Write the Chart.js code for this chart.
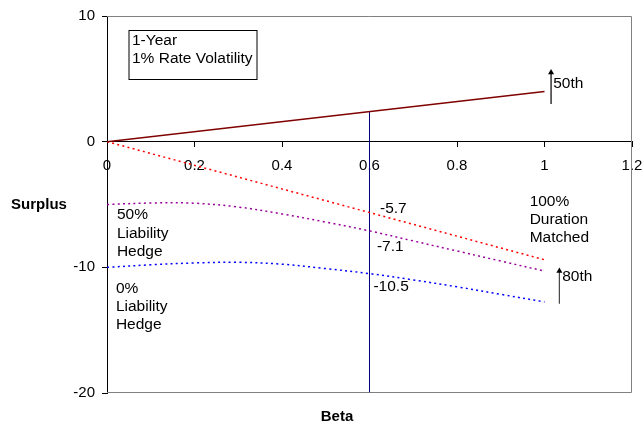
<!DOCTYPE html>
<html>
<head>
<meta charset="utf-8">
<script src="https://cdn.jsdelivr.net/npm/chart.js@4.4.1/dist/chart.umd.min.js"></script>
<style>
  html, body { margin: 0; padding: 0; background: #fff; }
  #wrap { width: 644px; height: 423px; position: relative; }
</style>
</head>
<body>
<div id="wrap"><canvas id="chart"></canvas></div>
<script>
// x values (beta) for the curved series and for the straight ones
const betaCurve = [0, 0.1, 0.2, 0.3, 0.4, 0.5, 0.6, 0.7, 0.8, 0.9, 1.0];
const betaLine = [0, 1];

// 50th percentile surplus (solid line)
const median = [0, 4.0];
// 80th percentile, 100% duration matched
const durationMatched = [0, -9.4];
// 80th percentile, 50% liability hedge
const hedge50 = [-5.0, -4.88, -4.9, -5.2, -5.75, -6.4, -7.1, -7.9, -8.7, -9.5, -10.3];
// 80th percentile, 0% liability hedge
const hedge0 = [-10.0, -9.8, -9.65, -9.6, -9.75, -10.1, -10.5, -11.0, -11.55, -12.15, -12.75];

// vertical marker at beta = 0.6 and the values read there
const markerBeta = [0.6, 0.6];
const markerSurplus = [-20, 2.4];
const markerLabels = ['-5.7', '-7.1', '-10.5'];

// percentile arrows
const arrow50Beta = [1.015, 1.015];
const arrow50Surplus = [3.0, 5.5];
const arrow80Beta = [1.034, 1.034];
const arrow80Surplus = [-12.9, -10.3];

// axis ticks
const xTickValues = [0, 0.2, 0.4, 0.6, 0.8, 1, 1.2];
const xTickLabels = ['0', '0.2', '0.4', '0.6', '0.8', '1', '1.2'];
const yTickValues = [10, 0, -10, -20];
const yTickLabels = ['10', '0', '-10', '-20'];

const FONT = "'Liberation Sans', Arial, sans-serif";

function points(xs, ys) {
    return xs.map((x, i) => ({ x: x, y: ys[i] }));
}

// text annotations, positioned in data coordinates
const notes = [
    { text: markerLabels[0], x: 0.624, y: -5.33 },
    { text: markerLabels[1], x: 0.617, y: -8.35 },
    { text: markerLabels[2], x: 0.609, y: -11.58 },
    { text: '100%', x: 0.966, y: -4.77 },
    { text: 'Duration', x: 0.966, y: -6.2 },
    { text: 'Matched', x: 0.966, y: -7.63 },
    { text: '50%', x: 0.0226, y: -5.83 },
    { text: 'Liability', x: 0.0226, y: -7.29 },
    { text: 'Hedge', x: 0.0226, y: -8.75 },
    { text: '0%', x: 0.0203, y: -11.73 },
    { text: 'Liability', x: 0.0203, y: -13.16 },
    { text: 'Hedge', x: 0.0203, y: -14.6 },
    { text: '50th', x: 1.02, y: 4.59 },
    { text: '80th', x: 1.0405, y: -10.76 }
];

const annotationPlugin = {
    id: 'annotations',
    afterDatasetsDraw(chart) {
        const ctx = chart.ctx;
        const ca = chart.chartArea;
        const xs = chart.scales.x;
        const ys = chart.scales.y;
        ctx.save();

        // plot frame (top, right, bottom)
        ctx.strokeStyle = '#808080';
        ctx.lineWidth = 1;
        ctx.beginPath();
        ctx.moveTo(ca.left, ca.top + 0.5);
        ctx.lineTo(ca.right - 0.5, ca.top + 0.5);
        ctx.lineTo(ca.right - 0.5, ca.bottom - 0.5);
        ctx.lineTo(ca.left, ca.bottom - 0.5);
        ctx.stroke();

        // notes
        ctx.fillStyle = '#000';
        ctx.font = '15.5px ' + FONT;
        ctx.textAlign = 'left';
        ctx.textBaseline = 'middle';
        notes.forEach(n => {
            ctx.fillText(n.text, xs.getPixelForValue(n.x), ys.getPixelForValue(n.y));
        });

        // info box
        const bx = ca.left + 21.5, by = ca.top + 14;
        ctx.fillStyle = '#fff';
        ctx.fillRect(bx, by, 128, 49);
        ctx.strokeStyle = '#000';
        ctx.strokeRect(bx + 0.5, by + 0.5, 128, 49);
        ctx.fillStyle = '#000';
        ctx.fillText('1-Year', bx + 3.5, by + 10.5);
        ctx.fillText('1% Rate Volatility', bx + 3.5, by + 28.5);

        // axis titles
        ctx.font = 'bold 15px ' + FONT;
        ctx.textAlign = 'center';
        ctx.fillText('Surplus', 39, (ca.top + ca.bottom) / 2 + 0.5);
        ctx.fillText('Beta', 337, 417);
        ctx.restore();
    }
};

const dotted = [2, 3.3];

new Chart(document.getElementById('chart'), {
    type: 'line',
    data: {
        datasets: [
            {
                label: '50th',
                data: points(betaLine, median),
                borderColor: '#800000',
                borderWidth: 1.5
            },
            {
                label: '100% Duration Matched',
                data: points(betaLine, durationMatched),
                borderColor: '#ff0000',
                borderWidth: 1.5,
                borderDash: dotted
            },
            {
                label: '50% Liability Hedge',
                data: points(betaCurve, hedge50),
                borderColor: '#990099',
                borderWidth: 1.5,
                borderDash: dotted,
                tension: 0.35
            },
            {
                label: '0% Liability Hedge',
                data: points(betaCurve, hedge0),
                borderColor: '#0000ff',
                borderWidth: 1.5,
                borderDash: dotted,
                tension: 0.35
            },
            {
                label: 'beta 0.6',
                data: points(markerBeta, markerSurplus),
                borderColor: '#000080',
                borderWidth: 1
            },
            {
                label: 'arrow 50th',
                data: points(arrow50Beta, arrow50Surplus),
                borderColor: '#000',
                borderWidth: 1.2,
                pointStyle: 'triangle',
                pointRadius: [0, 3.5],
                pointBackgroundColor: '#000',
                pointBorderColor: '#000',
                pointBorderWidth: 0
            },
            {
                label: 'arrow 80th',
                data: points(arrow80Beta, arrow80Surplus),
                borderColor: '#444',
                borderWidth: 1.2,
                pointStyle: 'triangle',
                pointRadius: [0, 3.5],
                pointBackgroundColor: '#000',
                pointBorderColor: '#000',
                pointBorderWidth: 0
            }
        ]
    },
    options: {
        responsive: true,
        maintainAspectRatio: false,
        animation: false,
        elements: {
            point: { radius: 0, hoverRadius: 0 }
        },
        layout: {
            padding: { top: 16, right: 12, bottom: 30, left: 0 }
        },
        plugins: {
            legend: { display: false },
            tooltip: { enabled: false }
        },
        scales: {
            x: {
                type: 'linear',
                position: { y: 0 },
                min: 0,
                max: 1.2,
                afterBuildTicks: scale => {
                    scale.ticks = xTickValues.map(v => ({ value: v }));
                },
                afterFit: scale => {
                    scale.paddingLeft = 0;
                    scale.paddingRight = 0;
                },
                grid: {
                    drawOnChartArea: false,
                    drawTicks: true,
                    tickLength: 5,
                    color: '#000'
                },
                border: { color: '#000', width: 1 },
                ticks: {
                    padding: 10,
                    color: '#000',
                    font: { family: FONT, size: 15 },
                    maxRotation: 0,
                    callback: (v, i) => xTickLabels[i]
                }
            },
            y: {
                type: 'linear',
                position: 'left',
                min: -20,
                max: 10,
                afterBuildTicks: scale => {
                    scale.ticks = yTickValues.map(v => ({ value: v }));
                },
                afterFit: scale => {
                    scale.width = 107;
                    scale.paddingTop = 0;
                    scale.paddingBottom = 0;
                },
                grid: {
                    drawOnChartArea: false,
                    drawTicks: true,
                    tickLength: 5,
                    color: '#000'
                },
                border: { color: '#000', width: 1 },
                ticks: {
                    padding: 7,
                    color: '#000',
                    font: { family: FONT, size: 15 },
                    callback: (v, i) => yTickLabels[i]
                }
            }
        }
    },
    plugins: [annotationPlugin]
});
</script>
</body>
</html>
